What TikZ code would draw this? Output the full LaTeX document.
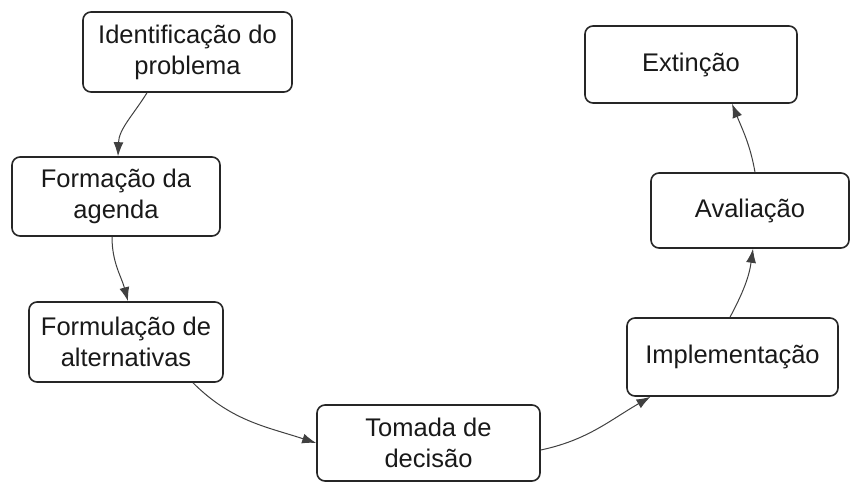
\documentclass[tikz,border=0pt]{standalone}
\usepackage{fontspec}
\setmainfont{Liberation Sans}
\usetikzlibrary{arrows.meta,calc}
\begin{document}
\begin{tikzpicture}[x=1pt,y=1pt,
  stage/.style={draw=black!85, line width=1.6pt, rounded corners=8pt, fill=white,
    align=center, inner sep=0pt, font=\fontsize{25.5}{31}\selectfont, text=black!90},
  flow/.style={draw=black!75, line width=1pt, -{Latex[length=14pt,width=10pt]}}]
\useasboundingbox (0,0) rectangle (850,482);
\node[stage, minimum width=209pt, minimum height=80pt] (A) at (187.5,430) {Identificação do\\problema};
\node[stage, minimum width=208pt, minimum height=79pt] (B) at (116,285.5) {Formação da\\agenda};
\node[stage, minimum width=194pt, minimum height=80pt] (C) at (126,140) {Formulação de\\alternativas};
\node[stage, minimum width=223pt, minimum height=76pt] (D) at (428.5,39) {Tomada de\\decisão};
\node[stage, minimum width=211pt, minimum height=78pt] (E) at (732.5,125) {Implementação};
\node[stage, minimum width=198pt, minimum height=75pt] (F) at (750,271.5) {Avaliação};
\node[stage, minimum width=212pt, minimum height=77pt] (G) at (691,417.5) {Extinção};

\draw[flow] ([xshift=-40.5pt]A.south) to[out=238, in=88] ([xshift=2pt]B.north);
\draw[flow] ([xshift=-4pt]B.south) to[out=270, in=105] ([xshift=2pt]C.north);
\draw[flow] ([xshift=67pt]C.south) to[out=-45, in=162] (D.west);
\draw[flow] ([yshift=-7pt]D.east) to[out=12, in=210] ([xshift=-82pt]E.south);
\draw[flow] ([xshift=-2.5pt]E.north) to[out=62, in=262] ([xshift=3pt]F.south);
\draw[flow] ([xshift=5pt]F.north) to[out=100, in=-68] ([xshift=41pt]G.south);
\end{tikzpicture}
\end{document}
